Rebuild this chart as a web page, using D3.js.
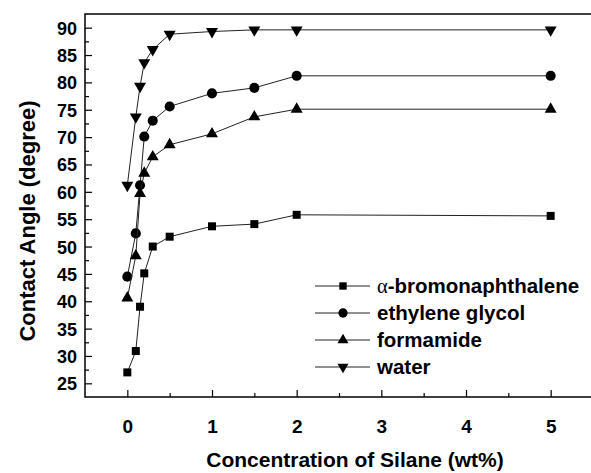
<!DOCTYPE html>
<html>
<head>
<meta charset="utf-8">
<script src="https://cdn.jsdelivr.net/npm/d3@7"></script>
<style>
  body { margin: 0; background: #fff; }
  svg { display: block; font-family: "Liberation Sans", Arial, sans-serif; }
</style>
</head>
<body>
<svg id="chart" width="591" height="473"></svg>
<script>
// silane concentration (wt%)
const conc = [0, 0.1, 0.15, 0.2, 0.3, 0.5, 1, 1.5, 2, 5];
// contact angles (degree)
const bromo = [27.0, 30.9, 39.0, 45.1, 50.0, 51.8, 53.7, 54.1, 55.8, 55.6];
const glycol = [44.5, 52.4, 61.2, 70.1, 73.0, 75.6, 78.0, 79.0, 81.2, 81.2];
const formamide = [40.6, 48.3, 59.7, 63.4, 66.4, 68.6, 70.6, 73.7, 75.1, 75.1];
const water = [61.2, 73.7, 79.3, 83.6, 86.0, 88.8, 89.3, 89.6, 89.6, 89.6];

const seriesNames = ["α-bromonaphthalene", "ethylene glycol", "formamide", "water"];
const xTicks = [0, 1, 2, 3, 4, 5];
const yTicks = [25, 30, 35, 40, 45, 50, 55, 60, 65, 70, 75, 80, 85, 90];

const svg = d3.select("#chart");
const plotL = 85, plotR = 593, plotT = 14, plotB = 397;

const x = d3.scaleLinear().domain([-0.5, 5.5]).range([plotL, plotR]);
const y = d3.scaleLinear().domain([22.5, 92.5]).range([plotB, plotT]);

// marker shapes
const shapes = [
  { type: d3.symbolSquare, size: 64, rot: 0 },
  { type: d3.symbolCircle, size: 80, rot: 0 },
  { type: d3.symbolTriangle, size: 62, rot: 0 },
  { type: d3.symbolTriangle, size: 62, rot: 180 }
];
const allSeries = [bromo, glycol, formamide, water];

// frame
svg.append("rect")
  .attr("x", plotL).attr("y", plotT)
  .attr("width", plotR - plotL).attr("height", plotB - plotT)
  .attr("fill", "none").attr("stroke", "#000").attr("stroke-width", 1.5);

// x axis, ticks pointing inwards
const xAxis = svg.append("g")
  .attr("transform", "translate(0," + plotB + ")")
  .call(d3.axisBottom(x).tickValues(xTicks).tickSize(-7).tickFormat(d3.format("d")));
svg.append("g")
  .attr("transform", "translate(0," + plotB + ")")
  .call(d3.axisBottom(x).tickValues([0.5, 1.5, 2.5, 3.5, 4.5]).tickSize(-4).tickFormat(""));

const yAxis = svg.append("g")
  .attr("transform", "translate(" + plotL + ",0)")
  .call(d3.axisLeft(y).tickValues(yTicks).tickSize(-7));
svg.append("g")
  .attr("transform", "translate(" + plotL + ",0)")
  .call(d3.axisLeft(y).tickValues(d3.range(27.5, 90, 5)).tickSize(-4).tickFormat(""));

svg.selectAll(".domain").remove();
svg.selectAll(".tick line").attr("stroke", "#000").attr("stroke-width", 1.2);

xAxis.selectAll("text")
  .attr("y", 23)
  .attr("font-size", 19).attr("font-weight", "bold")
  .attr("font-family", "Liberation Sans, Arial, sans-serif")
  .attr("fill", "#000");
yAxis.selectAll("text")
  .attr("x", -8).attr("dy", "0.36em")
  .attr("font-size", 18).attr("font-weight", "bold")
  .attr("font-family", "Liberation Sans, Arial, sans-serif")
  .attr("fill", "#000");

// lines and markers
const line = d3.line().x((d, i) => x(conc[i])).y(d => y(d));
allSeries.forEach((vals, k) => {
  svg.append("path")
    .datum(vals)
    .attr("d", line)
    .attr("fill", "none")
    .attr("stroke", "#222")
    .attr("stroke-width", 1);
  svg.selectAll(".m" + k)
    .data(vals)
    .enter()
    .append("path")
    .attr("class", "m" + k)
    .attr("d", d3.symbol().type(shapes[k].type).size(shapes[k].size))
    .attr("transform", (d, i) => "translate(" + x(conc[i]) + "," + y(d) + ") rotate(" + shapes[k].rot + ")")
    .attr("fill", "#000");
});

// legend
const legend = svg.append("g");
seriesNames.forEach((name, k) => {
  const ly = 286 + k * 27;
  legend.append("line")
    .attr("x1", 315).attr("x2", 370)
    .attr("y1", ly).attr("y2", ly)
    .attr("stroke", "#222").attr("stroke-width", 1);
  legend.append("path")
    .attr("d", d3.symbol().type(shapes[k].type).size(shapes[k].size * 0.85))
    .attr("transform", "translate(343," + ly + ") rotate(" + shapes[k].rot + ")")
    .attr("fill", "#000");
  const t = legend.append("text")
    .attr("x", 377).attr("y", ly).attr("dy", "0.36em")
    .attr("font-size", 20.5).attr("font-weight", "bold")
    .attr("fill", "#000");
  if (name.startsWith("α")) {
    t.append("tspan").attr("font-family", "Liberation Serif, serif").attr("font-weight", "normal").text("α");
    t.append("tspan").text(name.slice(1));
  } else {
    t.text(name);
  }
});

// axis titles
svg.append("text")
  .attr("x", 355).attr("y", 467)
  .attr("text-anchor", "middle")
  .attr("font-size", 21).attr("font-weight", "bold")
  .text("Concentration of Silane (wt%)");

svg.append("text")
  .attr("transform", "translate(35,221) rotate(-90)")
  .attr("text-anchor", "middle")
  .attr("font-size", 22).attr("font-weight", "bold")
  .text("Contact Angle (degree)");
</script>
</body>
</html>
